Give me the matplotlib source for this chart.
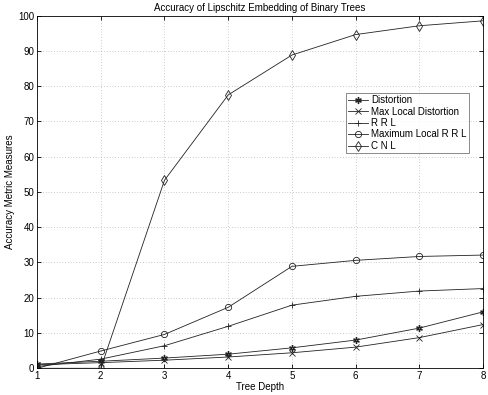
import matplotlib
matplotlib.use("Agg")
import matplotlib.pyplot as plt

plt.rcParams['font.family'] = ['Liberation Sans', 'DejaVu Sans']

# data
depth = [1, 2, 3, 4, 5, 6, 7, 8]
distortion = [1.2, 2.0, 2.9, 4.0, 5.8, 8.0, 11.4, 16.0]
max_local_distortion = [1.0, 1.6, 2.3, 3.2, 4.4, 6.0, 8.7, 12.4]
rrl = [0.5, 2.6, 6.4, 11.9, 17.9, 20.4, 21.9, 22.6]
max_local_rrl = [0.0, 4.9, 9.6, 17.3, 28.9, 30.6, 31.7, 32.1]
cnl = [0.0, 0.0, 53.3, 77.5, 88.8, 94.6, 97.1, 98.5]

labels = ['Distortion', 'Max Local Distortion', 'R R L', 'Maximum Local R R L', 'C N L']
markers = ['$\\ast$', 'x', '+', 'o', 'd']
series = [distortion, max_local_distortion, rrl, max_local_rrl, cnl]

fig = plt.figure(figsize=(4.89, 3.95), dpi=100)
ax = fig.add_axes([0.0757, 0.0676, 0.9123, 0.8931])

for s, m, lab in zip(series, markers, labels):
    ax.plot(depth, s, color='#222222', lw=0.6, marker=m, markersize=4.5 if m != 'd' else 5.5,
            markerfacecolor='none', markeredgecolor='#222222', markeredgewidth=0.6, label=lab)

ax.set_xlim(1, 8)
ax.set_ylim(0, 100)
ax.set_xticks(depth)
ax.set_yticks(range(0, 101, 10))
ax.grid(True, linestyle=(0, (1, 3)), color='#999999', lw=0.5)
ax.tick_params(direction='in', top=True, right=True, labelsize=7, length=3, width=0.6, pad=2)
for sp in ax.spines.values():
    sp.set_linewidth(0.6)

ax.set_title('Accuracy of Lipschitz Embedding of Binary Trees', fontsize=7, pad=3)
ax.set_xlabel('Tree Depth', fontsize=7, labelpad=1)
ax.set_ylabel('Accuracy Metric Measures', fontsize=7, labelpad=2)

leg = ax.legend(loc='upper left', bbox_to_anchor=(0.693, 0.78), fontsize=7, frameon=True,
                fancybox=False, edgecolor='#555555', borderpad=0.2, labelspacing=0.15,
                handlelength=2.0, handletextpad=0.4, borderaxespad=0)
leg.get_frame().set_linewidth(0.6)

fig.savefig('out.png', dpi=100)
